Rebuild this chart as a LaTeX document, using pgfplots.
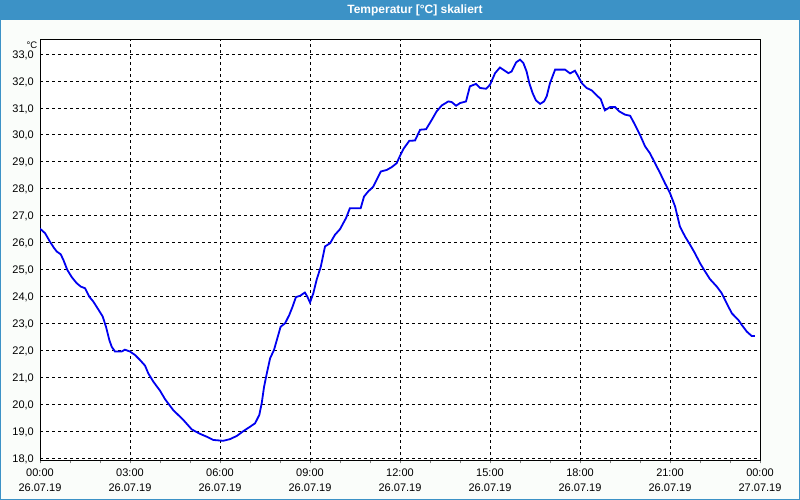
\documentclass[border=0pt]{standalone}
\usepackage{pgfplots}
\pgfplotsset{compat=1.18}
\usepackage{fontspec}
\setmainfont{Liberation Sans}
\definecolor{titlebar}{RGB}{60,146,198}
\definecolor{bgc}{RGB}{250,253,250}
\definecolor{curve}{RGB}{0,0,240}
\begin{document}
\begin{tikzpicture}[x=1bp,y=1bp]
\fill[bgc] (0,0) rectangle (800,500);
\fill[titlebar] (0,480) rectangle (800,500);
\draw[titlebar,line width=1bp] (0.5,0.5) rectangle (799.5,499.5);
\node[text=white,font=\fontsize{12bp}{14bp}\selectfont\bfseries] at (415,490) {Temperatur [°C] skaliert};
\node[anchor=east,inner sep=0pt,font=\fontsize{9.5bp}{11bp}\selectfont] at (37.5,455) {°C};
\begin{axis}[
  at={(40bp,39bp)}, anchor=south west,
  scale only axis, width=720bp, height=421bp,
  xmin=0, xmax=24, ymin=17.9, ymax=33.52,
  xtick={0,3,...,24},
  minor x tick num=2,
  ytick={18,19,...,33},
  xticklabels={{00:00\\26.07.19},{03:00\\26.07.19},{06:00\\26.07.19},{09:00\\26.07.19},{12:00\\26.07.19},{15:00\\26.07.19},{18:00\\26.07.19},{21:00\\26.07.19},{00:00\\27.07.19}},
  xticklabel style={align=center,font=\fontsize{11bp}{15bp}\selectfont, yshift=-2bp},
  yticklabel style={font=\fontsize{11bp}{13bp}\selectfont, inner sep=1bp, xshift=-2.5bp, yshift=-1bp},
  /pgf/number format/.cd, use comma, fixed, fixed zerofill, precision=1, assume math mode=true,
  /pgfplots/.cd,
  tick align=outside, major tick length=2.5bp, minor tick length=2.5bp,
  xtick pos=bottom, ytick pos=left,
  ytick style={draw=none},
  xmajorgrids, ymajorgrids,
  major grid style={black, line width=0.8bp, dash pattern=on 3bp off 3bp},
  axis line style={black, line width=1bp},
  axis background/.style={fill=white},
]
\addplot[curve, line width=1.8bp, mark=none] coordinates {
(0.00,26.52) (0.17,26.35) (0.33,26.04) (0.47,25.80) (0.56,25.67) (0.69,25.57) (0.78,25.36) (0.91,24.99)
(1.06,24.72) (1.22,24.50) (1.36,24.37) (1.50,24.31) (1.64,24.00) (1.78,23.81) (1.94,23.53) (2.09,23.26)
(2.20,22.88) (2.31,22.39) (2.39,22.14) (2.50,21.96) (2.72,21.96) (2.83,22.03) (3.00,21.96) (3.17,21.83)
(3.33,21.65) (3.50,21.44) (3.61,21.15) (3.78,20.84) (4.00,20.51) (4.17,20.19) (4.44,19.79) (4.78,19.42)
(5.06,19.07) (5.33,18.91) (5.56,18.80) (5.78,18.68) (6.11,18.65) (6.33,18.71) (6.56,18.83) (6.78,19.01)
(7.00,19.17) (7.17,19.30) (7.31,19.61) (7.39,20.04) (7.47,20.66) (7.56,21.15) (7.67,21.71) (7.80,22.02)
(7.91,22.45) (8.02,22.88) (8.17,23.01) (8.31,23.32) (8.42,23.63) (8.53,23.98) (8.67,24.03) (8.83,24.15)
(8.91,24.00) (9.00,23.78) (9.11,24.12) (9.22,24.62) (9.36,25.11) (9.50,25.86) (9.67,25.98) (9.83,26.29)
(10.00,26.50) (10.17,26.85) (10.20,26.91) (10.33,27.28) (10.69,27.28) (10.80,27.71) (10.94,27.90) (11.11,28.08)
(11.22,28.33) (11.36,28.64) (11.56,28.70) (11.72,28.80) (11.89,28.95) (12.00,29.22) (12.11,29.47) (12.31,29.78)
(12.50,29.79) (12.67,30.19) (12.87,30.21) (13.06,30.56) (13.22,30.87) (13.39,31.09) (13.61,31.24) (13.72,31.22)
(13.87,31.08) (14.00,31.18) (14.20,31.24) (14.33,31.80) (14.53,31.89) (14.67,31.74) (14.87,31.71) (15.00,31.86)
(15.17,32.29) (15.33,32.50) (15.48,32.39) (15.61,32.29) (15.72,32.35) (15.87,32.69) (16.00,32.79) (16.11,32.67)
(16.22,32.35) (16.31,31.92) (16.42,31.55) (16.53,31.28) (16.67,31.15) (16.80,31.24) (16.89,31.43) (17.00,31.92)
(17.17,32.42) (17.50,32.42) (17.67,32.28) (17.83,32.38) (17.94,32.17) (18.06,31.92) (18.22,31.74) (18.39,31.65)
(18.56,31.46) (18.69,31.33) (18.78,31.05) (18.83,30.91) (19.00,31.03) (19.17,31.03) (19.31,30.87) (19.50,30.75)
(19.67,30.71) (19.83,30.38) (20.00,30.00) (20.17,29.57) (20.33,29.32) (20.50,28.95) (20.67,28.58) (20.83,28.21)
(21.00,27.84) (21.17,27.34) (21.33,26.60) (21.50,26.23) (21.67,25.92) (21.83,25.61) (22.00,25.24) (22.17,24.93)
(22.33,24.65) (22.56,24.37) (22.72,24.13) (22.89,23.75) (23.06,23.38) (23.28,23.13) (23.39,22.95) (23.56,22.70)
(23.72,22.54) (23.83,22.54)
};
\end{axis}
\end{tikzpicture}
\end{document}
